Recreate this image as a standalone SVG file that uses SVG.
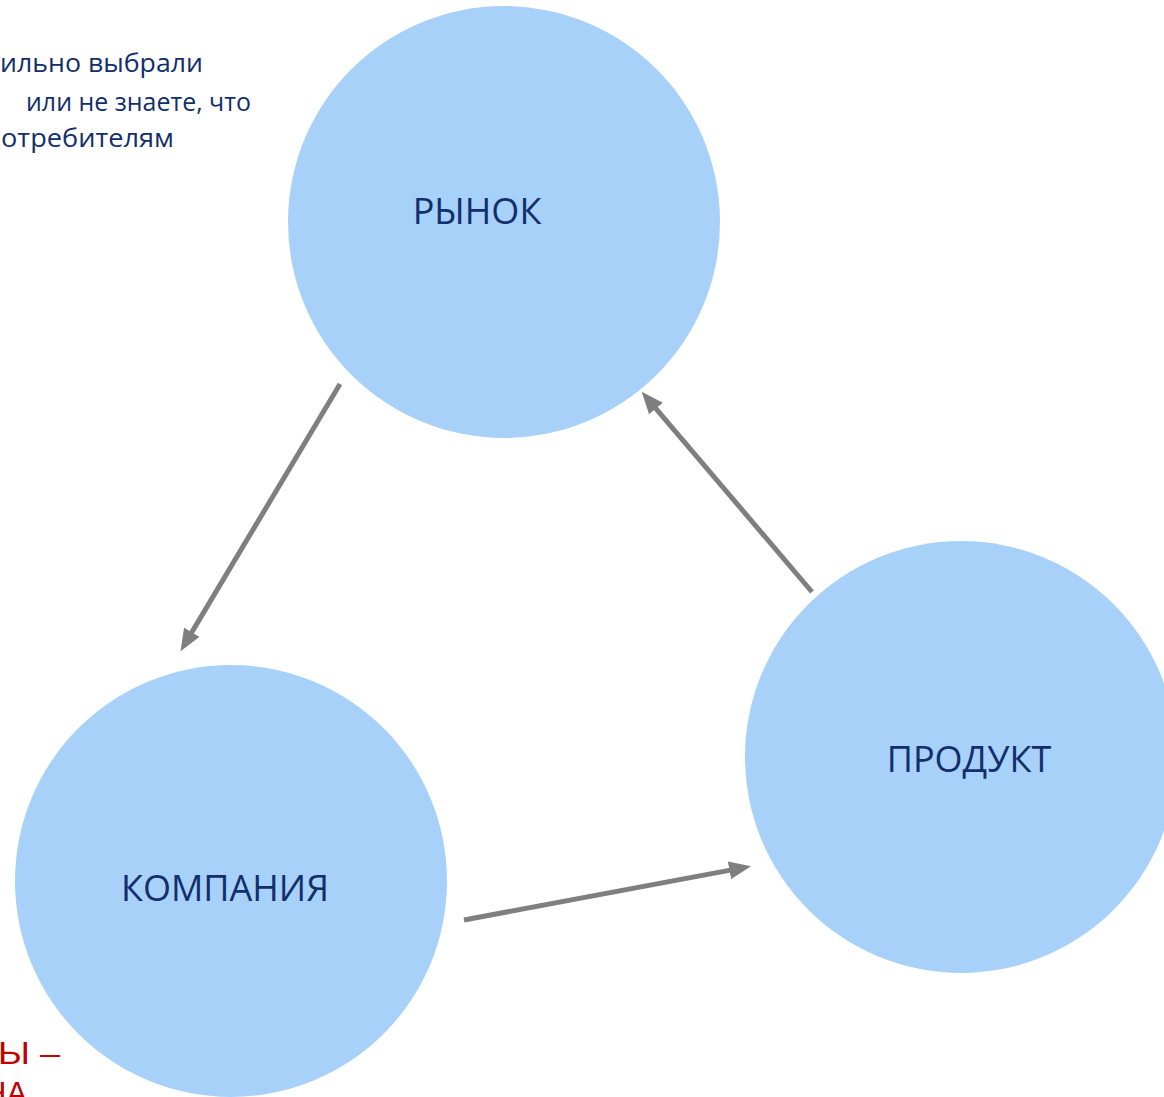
<svg xmlns="http://www.w3.org/2000/svg" width="1164" height="1097" viewBox="0 0 1164 1097">
<style>
.node{fill:#a8d1fa}
.lbl{font-family:"Open Sans","Liberation Sans",sans-serif;font-size:36px;fill:#122f6b;text-anchor:middle}
.note{font-family:"Open Sans","Liberation Sans",sans-serif;font-size:26px;fill:#122f6b}
.red{font-family:"Liberation Sans",sans-serif;font-size:31px;fill:#c00000}
.conn{stroke:#7f7f7f;stroke-width:5;fill:none}
</style>
<defs>
<marker id="arr" markerWidth="22" markerHeight="18" refX="1" refY="9" orient="auto" markerUnits="userSpaceOnUse">
<polygon points="0,0 22,9 0,18" fill="#7f7f7f"/>
</marker>
</defs>
<rect width="1164" height="1097" fill="#ffffff"/>
<g id="note-top">
<text class="note" x="0" y="72" textLength="203" lengthAdjust="spacingAndGlyphs">ильно выбрали</text>
<text class="note" x="26" y="111" textLength="225" lengthAdjust="spacingAndGlyphs">или не знаете, что</text>
<text class="note" x="1" y="147" textLength="173" lengthAdjust="spacingAndGlyphs">отребителям</text>
</g>
<g id="note-bottom">
<text class="red" x="-2" y="1064" textLength="62" lengthAdjust="spacingAndGlyphs">Ы –</text>
<text class="red" x="-16" y="1104">НА</text>
</g>
<g id="node-market">
<circle class="node" cx="504" cy="222" r="216"/>
<text class="lbl" x="477" y="224">РЫНОК</text>
</g>
<g id="node-company">
<circle class="node" cx="231" cy="881" r="216"/>
<text class="lbl" x="225" y="901">КОМПАНИЯ</text>
</g>
<g id="node-product">
<circle class="node" cx="961" cy="757" r="216"/>
<text class="lbl" x="969" y="772">ПРОДУКТ</text>
</g>
<g id="connectors">
<line class="conn" x1="340" y1="384" x2="191.3" y2="633.1" marker-end="url(#arr)"/>
<line class="conn" x1="464" y1="920" x2="730.4" y2="870.1" marker-end="url(#arr)"/>
<line class="conn" x1="812" y1="592" x2="655.3" y2="407.8" marker-end="url(#arr)"/>
</g>
</svg>
